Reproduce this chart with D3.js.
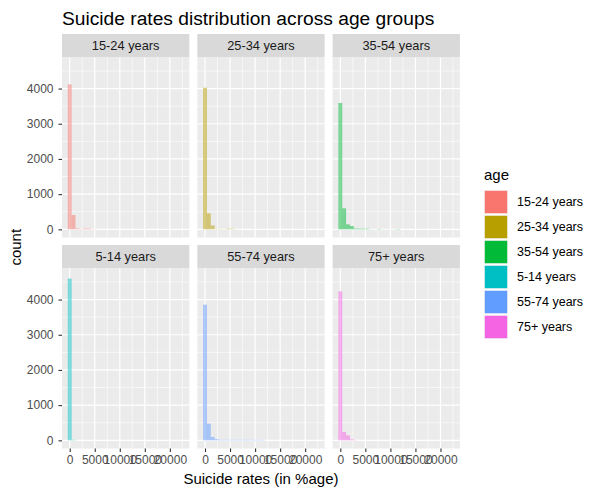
<!DOCTYPE html>
<html>
<head>
<meta charset="utf-8">
<script src="https://cdn.jsdelivr.net/npm/d3@7/dist/d3.min.js"></script>
<style>
  html, body { margin: 0; padding: 0; background: #fff; }
  svg { display: block; font-family: "Liberation Sans", Arial, sans-serif; }
</style>
</head>
<body>
<svg id="chart" width="600" height="494"></svg>
<script>
// ---- data ----
const ages = ["15-24 years", "25-34 years", "35-54 years", "5-14 years", "55-74 years", "75+ years"];
const colors = ["#F8766D", "#B79F00", "#00BA38", "#00BFC4", "#619CFF", "#F564E3"];
const binWidth = 770;          // histogram bin width (suicides_no), 30 bins
const binStart = -385;         // left edge of first bin
const counts1524 = [4120, 406, 25, 8, 22, 20, 5, 2, 1, 0, 0, 0, 0, 0, 0, 0, 0, 0, 0, 0, 0, 0, 0, 0, 0, 0, 0, 0, 0, 0];
const counts2534 = [4023, 455, 110, 10, 6, 5, 18, 16, 3, 1, 0, 0, 0, 0, 0, 0, 0, 0, 0, 0, 0, 0, 0, 0, 0, 0, 0, 0, 0, 0];
const counts3554 = [3590, 597, 142, 94, 22, 20, 18, 16, 4, 2, 10, 3, 2, 2, 3, 10, 0, 0, 0, 0, 0, 0, 0, 0, 0, 0, 0, 0, 0, 0];
const counts0514 = [4595, 15, 0, 0, 0, 0, 0, 0, 0, 0, 0, 0, 0, 0, 0, 0, 0, 0, 0, 0, 0, 0, 0, 0, 0, 0, 0, 0, 0, 0];
const counts5574 = [3855, 474, 94, 32, 16, 15, 15, 14, 14, 14, 14, 14, 13, 13, 13, 12, 0, 0, 0, 0, 0, 0, 0, 0, 0, 0, 0, 0, 0, 0];
const counts75p  = [4233, 236, 142, 28, 6, 0, 0, 0, 0, 0, 0, 0, 0, 0, 0, 0, 0, 0, 0, 0, 0, 0, 0, 0, 0, 0, 0, 0, 0, 0];
const seriesCounts = [counts1524, counts2534, counts3554, counts0514, counts5574, counts75p];
const xTicks = [0, 5000, 10000, 15000, 20000];
const yTicks = [0, 1000, 2000, 3000, 4000];
const xMinor = [2500, 7500, 12500, 17500, 22500];
const yMinor = [500, 1500, 2500, 3500, 4500];
const titleText = "Suicide rates distribution across age groups";
const xTitle = "Suicide rates (in %age)";
const yTitle = "count";
const legendTitle = "age";

// ---- layout ----
const svg = d3.select("#chart");
const panelW = 127.3, panelH = 180, stripH = 23.5;
const colX = [62, 197.3, 332.6];
const rowY = [34, 245];

const x = d3.scaleLinear().domain([-1540, 23880]).range([0, panelW]);
const y = d3.scaleLinear().domain([-232.5, 4882.5]).range([panelH, 0]);

svg.append("text")
  .attr("x", 62).attr("y", 25)
  .attr("font-size", 19.2).attr("fill", "#000")
  .text(titleText);

ages.forEach((age, i) => {
  const col = i % 3, row = Math.floor(i / 3);
  const gx = colX[col], gy = rowY[row];
  const g = svg.append("g").attr("transform", `translate(${gx},${gy})`);
  // strip
  g.append("rect").attr("width", panelW).attr("height", stripH).attr("fill", "#D9D9D9");
  g.append("text").attr("x", panelW / 2).attr("y", stripH / 2 + 4.5)
    .attr("text-anchor", "middle").attr("font-size", 12.8).attr("fill", "#1A1A1A").text(age);
  const p = g.append("g").attr("transform", `translate(0,${stripH})`);
  p.append("rect").attr("width", panelW).attr("height", panelH).attr("fill", "#EBEBEB");
  // grid
  p.selectAll(".ymin").data(yMinor).join("line")
    .attr("x1", 0).attr("x2", panelW).attr("y1", d => y(d)).attr("y2", d => y(d))
    .attr("stroke", "#fff").attr("stroke-width", 0.6);
  p.selectAll(".xmin").data(xMinor).join("line")
    .attr("y1", 0).attr("y2", panelH).attr("x1", d => x(d)).attr("x2", d => x(d))
    .attr("stroke", "#fff").attr("stroke-width", 0.6);
  p.selectAll(".ymaj").data(yTicks).join("line")
    .attr("x1", 0).attr("x2", panelW).attr("y1", d => y(d)).attr("y2", d => y(d))
    .attr("stroke", "#fff").attr("stroke-width", 1.2);
  p.selectAll(".xmaj").data(xTicks).join("line")
    .attr("y1", 0).attr("y2", panelH).attr("x1", d => x(d)).attr("x2", d => x(d))
    .attr("stroke", "#fff").attr("stroke-width", 1.2);
  // bars
  const bins = seriesCounts[i].map((c, k) => ({ x0: binStart + k * binWidth, x1: binStart + (k + 1) * binWidth, c }));
  p.selectAll(".bar").data(bins.filter(b => b.c > 0)).join("rect")
    .attr("x", d => x(d.x0)).attr("width", d => x(d.x1) - x(d.x0))
    .attr("y", d => y(d.c)).attr("height", d => y(0) - y(d.c))
    .attr("fill", colors[i]).attr("fill-opacity", 0.5);
  // axes
  if (col === 0) {
    const ax = p.append("g").call(d3.axisLeft(y).tickValues(yTicks).tickSize(3.5).tickPadding(5).tickFormat(d3.format("d")));
    ax.select(".domain").remove();
    ax.selectAll("line").attr("stroke", "#333").attr("stroke-width", 1.1);
    ax.selectAll("text").attr("font-size", 12).attr("fill", "#4D4D4D").attr("font-family", "Liberation Sans, Arial, sans-serif");
  }
  if (row === 1) {
    const ax = p.append("g").attr("transform", `translate(0,${panelH})`)
      .call(d3.axisBottom(x).tickValues(xTicks).tickSize(3.5).tickPadding(3).tickFormat(d3.format("d")));
    ax.select(".domain").remove();
    ax.selectAll("line").attr("stroke", "#333").attr("stroke-width", 1.1);
    ax.selectAll("text").attr("font-size", 12).attr("fill", "#4D4D4D").attr("font-family", "Liberation Sans, Arial, sans-serif");
  }
});

// axis titles
svg.append("text").attr("x", (colX[0] + colX[2] + panelW) / 2).attr("y", 484)
  .attr("text-anchor", "middle").attr("font-size", 15).attr("fill", "#000").text(xTitle);
svg.append("text").attr("transform", `translate(21,${(rowY[0] + rowY[1] + stripH + panelH) / 2 + 6}) rotate(-90)`)
  .attr("text-anchor", "middle").attr("font-size", 15).attr("fill", "#000").text(yTitle);

// legend
const lg = svg.append("g").attr("transform", "translate(484,0)");
lg.append("text").attr("x", 0).attr("y", 180).attr("font-size", 15).attr("fill", "#000").text(legendTitle);
ages.forEach((age, i) => {
  const ky = 190 + i * 25;
  lg.append("rect").attr("x", 0).attr("y", ky).attr("width", 24).attr("height", 24).attr("fill", "#F2F2F2");
  lg.append("rect").attr("x", 0.8).attr("y", ky + 0.8).attr("width", 22.4).attr("height", 22.4).attr("fill", colors[i]);
  lg.append("text").attr("x", 33).attr("y", ky + 12 + 4.4).attr("font-size", 12.5).attr("fill", "#000").text(age);
});
</script>
</body>
</html>
